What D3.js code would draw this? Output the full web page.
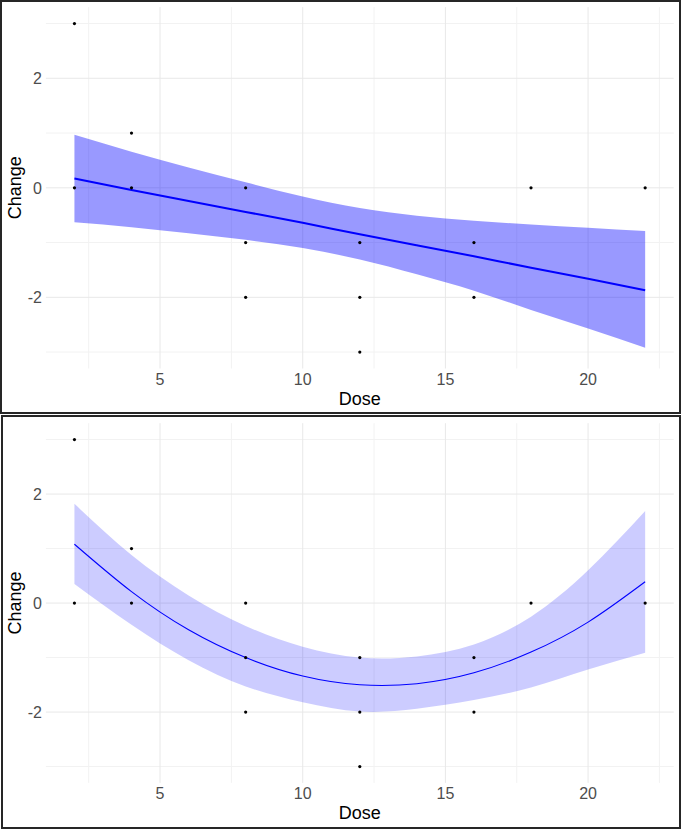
<!DOCTYPE html>
<html>
<head>
<meta charset="utf-8">
<script src="https://cdn.jsdelivr.net/npm/d3@7"></script>
<style>
  html, body { margin: 0; padding: 0; background: #fff; }
  svg { display: block; }
</style>
</head>
<body>
<svg id="chart" width="685" height="834"></svg>
<script>
// ---- data ----
const doseValues   = [2, 2, 4, 4, 8, 8, 8, 12, 12, 12, 16, 16, 18, 22];
const changeValues = [3, 0, 1, 0, 0, -1, -2, -1, -2, -3, -1, -2, 0, 0];

const fitDose = [2, 4, 6, 8, 10, 12, 14, 16, 18, 20, 22];
// linear fit (top panel)
const linFit   = [0.17, -0.04, -0.24, -0.44, -0.64, -0.85, -1.05, -1.25, -1.46, -1.66, -1.87];
const linUpper = [0.97, 0.66, 0.37, 0.10, -0.16, -0.37, -0.51, -0.60, -0.67, -0.73, -0.79];
const linLower = [-0.63, -0.72, -0.83, -0.95, -1.10, -1.31, -1.58, -1.88, -2.23, -2.57, -2.92];
// quadratic fit (bottom panel)
const quadFit   = [1.08, 0.21, -0.49, -1.00, -1.34, -1.50, -1.48, -1.28, -0.90, -0.35, 0.39];
const quadUpper = [1.82, 0.88, 0.14, -0.42, -0.80, -1.00, -0.98, -0.76, -0.25, 0.60, 1.69];
const quadLower = [0.35, -0.40, -1.05, -1.53, -1.82, -1.99, -1.94, -1.78, -1.55, -1.22, -0.91];

const xMajorTicks = [5, 10, 15, 20];
const xMinorTicks = [2.5, 7.5, 12.5, 17.5, 22.5];
const yMajorTicks = [-2, 0, 2];
const yMinorTicks = [-3, -1, 1, 3];

const xLabel = "Dose";
const yLabel = "Change";

// ---- drawing ----
const svg = d3.select("#chart");
const FONT = "'Liberation Sans', Arial, sans-serif";

function panel(cfg) {
  const g = svg.append("g");
  // frame
  g.append("rect")
    .attr("x", cfg.box[0]).attr("y", cfg.box[1])
    .attr("width", cfg.box[2]).attr("height", cfg.box[3])
    .attr("fill", "#fff").attr("stroke", "#262626").attr("stroke-width", 2);

  const x = d3.scaleLinear().domain([1, 23]).range([45.9, 673.7]);
  const y = d3.scaleLinear().domain([-3.3, 3.3]).range([cfg.bottom, cfg.top]);

  const [x0, x1] = x.range();
  const [y0, y1] = y.range();

  // minor grid
  g.selectAll(".xmin").data(xMinorTicks).join("line")
    .attr("class", "xmin")
    .attr("x1", d => x(d)).attr("x2", d => x(d)).attr("y1", y0).attr("y2", y1)
    .attr("stroke", "#f2f2f2").attr("stroke-width", 1);
  g.selectAll(".ymin").data(yMinorTicks).join("line")
    .attr("class", "ymin")
    .attr("x1", x0).attr("x2", x1).attr("y1", d => y(d)).attr("y2", d => y(d))
    .attr("stroke", "#f2f2f2").attr("stroke-width", 1);
  // major grid
  g.selectAll(".xmaj").data(xMajorTicks).join("line")
    .attr("class", "xmaj")
    .attr("x1", d => x(d)).attr("x2", d => x(d)).attr("y1", y0).attr("y2", y1)
    .attr("stroke", "#e8e8e8").attr("stroke-width", 1);
  g.selectAll(".ymaj").data(yMajorTicks).join("line")
    .attr("class", "ymaj")
    .attr("x1", x0).attr("x2", x1).attr("y1", d => y(d)).attr("y2", d => y(d))
    .attr("stroke", "#e8e8e8").attr("stroke-width", 1);

  // tick labels
  g.selectAll(".xt").data(xMajorTicks).join("text")
    .attr("class", "xt")
    .attr("x", d => x(d)).attr("y", y0 + 16.5)
    .attr("text-anchor", "middle")
    .attr("font-family", FONT).attr("font-size", 16).attr("fill", "#4d4d4d")
    .text(d => d);
  g.selectAll(".yt").data(yMajorTicks).join("text")
    .attr("class", "yt")
    .attr("x", 42).attr("y", d => y(d)).attr("dy", "0.36em")
    .attr("text-anchor", "end")
    .attr("font-family", FONT).attr("font-size", 16).attr("fill", "#4d4d4d")
    .text(d => d);

  // axis titles
  g.append("text")
    .attr("x", (x0 + x1) / 2).attr("y", y0 + 36.5)
    .attr("text-anchor", "middle")
    .attr("font-family", FONT).attr("font-size", 18).attr("fill", "#000")
    .text(xLabel);
  g.append("text")
    .attr("transform", `translate(21,${(y0 + y1) / 2}) rotate(-90)`)
    .attr("text-anchor", "middle")
    .attr("font-family", FONT).attr("font-size", 18).attr("fill", "#000")
    .text(yLabel);

  // band
  const bandData = fitDose.map((d, i) => ({ x: d, lo: cfg.lower[i], hi: cfg.upper[i], m: cfg.fit[i] }));
  g.append("path")
    .datum(bandData)
    .attr("d", d3.area().x(d => x(d.x)).y0(d => y(d.lo)).y1(d => y(d.hi)).curve(d3.curveNatural))
    .attr("fill", "#0000ff").attr("fill-opacity", cfg.bandOpacity).attr("stroke", "none");
  // fitted line
  g.append("path")
    .datum(bandData)
    .attr("d", d3.line().x(d => x(d.x)).y(d => y(d.m)).curve(d3.curveNatural))
    .attr("fill", "none").attr("stroke", "#0000ff").attr("stroke-width", cfg.lineWidth);

  // points
  g.selectAll(".pt").data(doseValues.map((d, i) => [d, changeValues[i]])).join("circle")
    .attr("class", "pt")
    .attr("cx", d => x(d[0])).attr("cy", d => y(d[1])).attr("r", 1.6)
    .attr("fill", "#000");
}

panel({ box: [1, 1, 679, 412], top: 7.1, bottom: 368.5,
        fit: linFit, upper: linUpper, lower: linLower, bandOpacity: 0.4, lineWidth: 2 });
panel({ box: [2, 416, 678, 412], top: 423.2, bottom: 782.9,
        fit: quadFit, upper: quadUpper, lower: quadLower, bandOpacity: 0.2, lineWidth: 1.1 });
</script>
</body>
</html>
